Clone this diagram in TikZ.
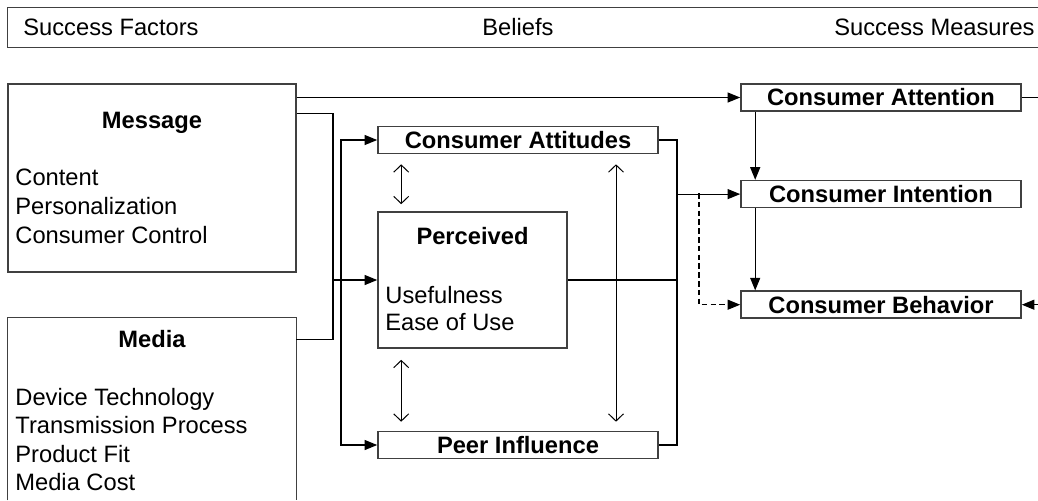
\documentclass[tikz,border=0pt]{standalone}
\usepackage{fontspec}
\setmainfont{Liberation Sans}
\usetikzlibrary{positioning}
\usetikzlibrary{arrows.meta}

\tikzset{
  boxline/.style={draw=black!75,line width=0.8pt},
  bold/.style={font=\fontsize{11.85}{14.5}\selectfont\bfseries},
  box/.style={rectangle,boxline,bold,inner sep=0pt,minimum width=140pt,minimum height=13.5pt},
  txt/.style={inner sep=0pt,anchor=base west},
  wire/.style={line width=0.6pt},
  arr/.style={wire,-{Triangle[length=6.3pt,width=5pt]}},
  arrs/.style={wire,{Triangle[length=6.3pt,width=5pt]}-{Triangle[length=6.3pt,width=5pt]}},
  one/.style={line width=0.5pt,-{Straight Barb[length=3.6pt,width=7.5pt]}},
  dbl/.style={line width=0.5pt,{Straight Barb[length=3.6pt,width=7.5pt]}-{Straight Barb[length=3.6pt,width=7.5pt]}}
}

\begin{document}
\begin{tikzpicture}[x=0.5pt,y=-0.5pt,node distance=20pt,font=\fontsize{11.85}{14.5}\selectfont]
\useasboundingbox (0,0) rectangle (1038,500);

% header
\node[rectangle,inner sep=0pt,minimum width=515pt,minimum height=19.5pt] (hd) at (523,27.5) {};
\draw[boxline] (hd.north east) -| (hd.south west) -- (hd.south east);
\node[txt] (h1) at (23,35) {Success Factors};
\node[txt,anchor=base] (h2) at (518,35) {Beliefs};
\node[txt,anchor=base east] (h3) at (1035,35) {Success Measures};

% success factors
\node[rectangle,boxline,inner sep=0pt,minimum width=144pt,minimum height=94pt] (f1) at (152,178) {};
\node[txt,bold,anchor=base] (f1t) at (152,128) {Message};
\node[txt] (f1a) at (15,185) {Content};
\node[txt] (f1b) at (15,214) {Personalization};
\node[txt] (f1c) at (15,243) {Consumer Control};

\node[rectangle,inner sep=0pt,minimum width=144pt,minimum height=91pt] (f2) at (152,409) {};
\draw[boxline] (f2.south west) |- (f2.north east) -- (f2.south east);
\node[txt,bold,anchor=base] (f2t) at (152,347) {Media};
\node[txt] (f2a) at (15,405) {Device Technology};
\node[txt] (f2b) at (15,433) {Transmission Process};
\node[txt] (f2c) at (15,462) {Product Fit};
\node[txt] (f2d) at (15,490) {Media Cost};

% beliefs
\node[box] (b1) at (518,140) {Consumer Attitudes};
\node[rectangle,boxline,inner sep=0pt,minimum width=94.5pt,minimum height=68pt] (b2) at (472.5,280) {};
\node[txt,bold,anchor=base] (b2t) at (472.5,244) {Perceived};
\node[txt] (b2a) at (385,303) {Usefulness};
\node[txt] (b2b) at (385,330) {Ease of Use};
\node[box] (b3) at (518,445) {Peer Influence};

% success measures
\node[box] (m1) at (881,97.5) {Consumer Attention};
\node[box,below=34pt of m1] (m2) {Consumer Intention};
\node[box,below=41pt of m2] (m3) {Consumer Behavior};

\coordinate (jn) at (333,280);
\coordinate (sp) at (341,280);
\coordinate (ud) at (616,280);
\coordinate (cl) at (677,280);
\coordinate (dj) at (699,193);
\coordinate (eg) at (1038,200);

\draw[arr] (f1.east |- m1.west) -- (m1.west);
\draw[wire] ([yshift=-15pt]f1.north east) -| (jn) |- ([yshift=-11pt]f2.north east);
\draw[arr] (jn) -- (b2.west);
\draw[arrs] (b1.west) -| (sp) |- (b3.west);

\draw[dbl,shorten <=5pt,shorten >=3.5pt] ([xshift=12pt]b1.south west) -- ([xshift=12pt]b2.north west);
\draw[dbl,shorten <=5.5pt,shorten >=4.5pt] ([xshift=12pt]b2.south west) -- ([xshift=12pt]b3.north west);

\draw[wire] (b2.east) -- (cl);
\draw[one,shorten >=5pt] (ud) -- (ud |- b1.south);
\draw[one,shorten >=4.5pt] (ud) -- (ud |- b3.north);
\draw[wire] (b1.east) -| (cl |- b3.east) -- (b3.east);

\draw[arr] (cl |- m2.west) -- (m2.west);
\draw[arr,dash pattern=on 2.8pt off 1.6pt] (dj) |- (m3.west);
\draw[arr] ([xshift=7.5pt]m1.south west) -- ([xshift=7.5pt]m2.north west);
\draw[arr] ([xshift=7.5pt]m2.south west) -- ([xshift=7.5pt]m3.north west);
%\draw[arr] (m3.east -| eg) -- (m1.east -| eg);
\draw[wire] (m1.east) -- (m1.east -| eg);
\draw[arr] (m3.east -| eg) -- (m3.east);

\end{tikzpicture}
\end{document}
